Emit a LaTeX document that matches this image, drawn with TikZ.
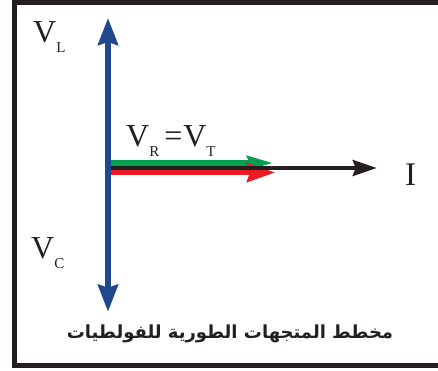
\documentclass[tikz,border=0pt]{standalone}
\usepackage{fontspec}
\setmainfont{Liberation Serif}
\newfontfamily\arabicfont[Script=Arabic]{DejaVu Sans}
\TeXXeTstate=1
\usepackage{xcolor}
\usepackage{tikz}
\usetikzlibrary{arrows.meta}
\definecolor{myblue}{RGB}{31,73,140}
\definecolor{mygreen}{RGB}{0,160,80}
\definecolor{myred}{RGB}{237,28,36}
\definecolor{myblack}{RGB}{35,31,32}
\newcommand{\lowsub}[1]{\raisebox{-10pt}{\fontsize{15}{15}\selectfont #1}}
\tikzstyle{frame} = [line width=4.7pt, draw=myblack, line join=miter]
\tikzstyle{vlabel} = [anchor=base west, inner sep=0pt, text=myblack, font=\fontsize{32}{32}\selectfont]
\tikzstyle{caption} = [inner sep=0pt, text=myblack, font=\arabicfont\bfseries\fontsize{18}{18}\selectfont]
\tikzstyle{vaxis} = [line width=5.5pt, draw=myblue, {Stealth[length=27pt, width=20pt, inset=3pt]}-{Stealth[length=27pt, width=20pt, inset=3pt]}]
\tikzstyle{current} = [line width=3.5pt, draw=myblack, -{Stealth[length=24pt, width=16pt, inset=3pt]}]
\tikzstyle{vtotal} = [line width=5.5pt, draw=mygreen, -{Stealth[length=26pt, width=14pt, inset=3pt]}]
\tikzstyle{vres} = [line width=5pt, draw=myred, -{Stealth[length=28pt, width=19pt, inset=3pt]}]

\begin{document}
\begin{tikzpicture}[x=1pt, y=-1pt]
    \useasboundingbox (0,0) rectangle (438,370);
    \draw [frame] (438,2.35) -- (14.35,2.35) -- (14.35,365.2) -- (438,365.2);

    \coordinate (origin) at (108,168);
    \coordinate (vltip) at (108,18);
    \coordinate (vctip) at (108,311.7);
    \coordinate (itip) at (376.7,168);
    \coordinate (vtstart) at (108,163);
    \coordinate (vttip) at (273,163);
    \coordinate (vrstart) at (108,172.5);
    \coordinate (vrtip) at (275,172.5);

    \node (vl) [vlabel] at (33,42) {V\lowsub{L}};
    \node (vc) [vlabel] at (31,258) {V\lowsub{C}};
    \node (vr) [vlabel] at (126,146.7) {V\lowsub{R}\kern5pt=\kern1pt V\lowsub{T}};
    \node (i) [vlabel, font=\fontsize{33}{33}\selectfont] at (405,185) {I};
    \node (title) [caption] at (230,334) {\beginR مخطط المتجهات الطورية للفولطيات\endR};

    \draw [vtotal] (vtstart) -- (vttip);
    \draw [vres] (vrstart) -- (vrtip);
    \draw [current] (origin) -- (itip);
    \draw [vaxis] (vctip) -- (vltip);
\end{tikzpicture}
\end{document}
